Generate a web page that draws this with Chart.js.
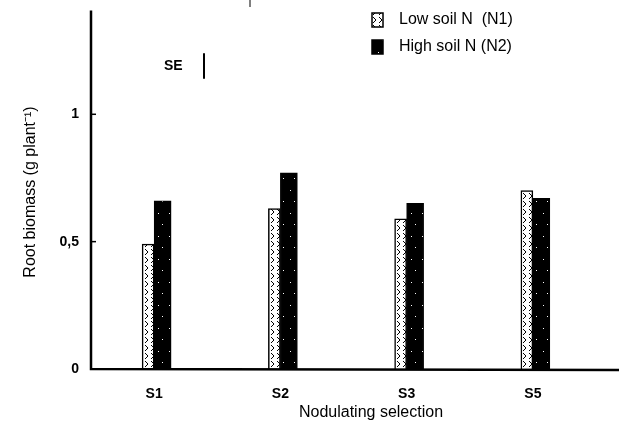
<!DOCTYPE html>
<html>
<head>
<meta charset="utf-8">
<script src="https://cdn.jsdelivr.net/npm/chart.js@4.4.1/dist/chart.umd.min.js"></script>
<style>
  html, body { margin: 0; padding: 0; background: #fff; }
  #wrap { width: 619px; height: 430px; }
</style>
</head>
<body>
<div id="wrap"><canvas id="rootChart" width="619" height="430"></canvas></div>
<script>
// Data
const selections = ['S1', 'S2', 'S3', 'S5'];
const lowSoilN = [0.49, 0.63, 0.59, 0.70];   // N1
const highSoilN = [0.66, 0.77, 0.65, 0.67];  // N2
const yTicks = [0, 0.5, 1];
const seValue = 0.1;
const seCentre = 1.19;

const FONT = '"Liberation Sans", Arial, sans-serif';

// N1 fill: white with a column of small black marks
function lowPattern() {
  const c = document.createElement('canvas');
  c.width = 6; c.height = 8;
  const g = c.getContext('2d');
  g.fillStyle = '#fff';
  g.fillRect(0, 0, 6, 8);
  g.strokeStyle = '#000';
  g.lineWidth = 1;
  g.beginPath();
  g.moveTo(1, 1); g.lineTo(4, 4); g.lineTo(1, 7);
  g.stroke();
  return g.createPattern(c, 'repeat');
}

// N2 fill: black with a few white specks
function highPattern() {
  const c = document.createElement('canvas');
  c.width = 11; c.height = 23;
  const g = c.getContext('2d');
  g.fillStyle = '#000';
  g.fillRect(0, 0, 11, 23);
  g.fillStyle = '#fff';
  g.fillRect(4, 6, 1, 1);
  g.fillRect(8, 17, 1, 1);
  return g.createPattern(c, 'repeat');
}

const lowFill = lowPattern();
const highFill = highPattern();

// axis lines, inner ticks, axis titles, SE marker and legend
const decorations = {
  id: 'decorations',
  afterDraw(chart) {
    const ctx = chart.ctx;
    const area = chart.chartArea;
    const y = chart.scales.y;
    ctx.save();
    ctx.strokeStyle = '#000';
    ctx.lineWidth = 2.5;
    ctx.beginPath();
    ctx.moveTo(area.left, area.top - 2);
    ctx.lineTo(area.left, area.bottom);
    ctx.lineTo(chart.width, area.bottom + 1);
    ctx.stroke();

    ctx.lineWidth = 1.5;
    yTicks.slice(1).forEach(v => {
      const py = y.getPixelForValue(v);
      ctx.beginPath();
      ctx.moveTo(area.left, py);
      ctx.lineTo(area.left + 5, py);
      ctx.stroke();
    });

    // small mark at the top edge
    ctx.lineWidth = 1;
    ctx.beginPath();
    ctx.moveTo(250, 0);
    ctx.lineTo(250, 7);
    ctx.stroke();

    ctx.fillStyle = '#000';
    ctx.textBaseline = 'middle';

    // y axis title
    ctx.save();
    ctx.translate(31, 192);
    ctx.rotate(-Math.PI / 2);
    ctx.font = '16px ' + FONT;
    ctx.textAlign = 'center';
    ctx.fillText('Root biomass (g plant\u207B\u00B9)', 0, 0);
    ctx.restore();

    // x axis title
    ctx.font = '16px ' + FONT;
    ctx.textAlign = 'center';
    ctx.fillText('Nodulating selection', 371, 413);

    // SE bar
    const seX = 204;
    ctx.lineWidth = 2;
    ctx.beginPath();
    ctx.moveTo(seX, y.getPixelForValue(seCentre + seValue / 2));
    ctx.lineTo(seX, y.getPixelForValue(seCentre - seValue / 2));
    ctx.stroke();
    ctx.font = 'bold 14px ' + FONT;
    ctx.textAlign = 'left';
    ctx.fillText('SE', 164, y.getPixelForValue(seCentre));

    // legend
    const items = [
      { text: 'Low soil N  (N1)', fill: lowFill, y: 20 },
      { text: 'High soil N (N2)', fill: highFill, y: 47 },
    ];
    items.forEach(it => {
      ctx.fillStyle = it.fill;
      ctx.fillRect(372, it.y - 7, 11, 14);
      ctx.strokeStyle = '#000';
      ctx.lineWidth = 1.5;
      ctx.strokeRect(372, it.y - 7, 11, 14);
      ctx.fillStyle = '#000';
      ctx.font = '16px ' + FONT;
      ctx.fillText(it.text, 399, it.y);
    });
    ctx.restore();
  },
};

new Chart(document.getElementById('rootChart'), {
  type: 'bar',
  data: {
    labels: selections,
    datasets: [
      {
        label: 'Low soil N (N1)',
        data: lowSoilN,
        backgroundColor: lowFill,
        borderColor: '#000',
        borderWidth: 1.5,
        barThickness: 12,
      },
      {
        label: 'High soil N (N2)',
        data: highSoilN,
        backgroundColor: highFill,
        borderColor: '#000',
        borderWidth: 1,
        barThickness: 17,
      },
    ],
  },
  options: {
    responsive: false,
    animation: false,
    layout: { padding: { top: 11, right: 23, left: 0, bottom: 0 } },
    plugins: {
      legend: { display: false },
      tooltip: { enabled: false },
    },
    scales: {
      x: {
        grid: { display: false },
        border: { display: false },
        ticks: {
          color: '#000',
          padding: 9,
          font: { family: FONT, size: 14, weight: 'bold' },
        },
        afterFit(scale) { scale.height = 61; },
      },
      y: {
        min: 0,
        max: 1.4,
        grid: { display: false },
        border: { display: false },
        afterBuildTicks(scale) {
          scale.ticks = yTicks.map(v => ({ value: v }));
        },
        ticks: {
          color: '#000',
          padding: 4,
          font: { family: FONT, size: 14, weight: 'bold' },
          callback: v => String(v).replace('.', ','),
        },
        afterFit(scale) { scale.width = 91; },
      },
    },
  },
  plugins: [decorations],
});
</script>
</body>
</html>
